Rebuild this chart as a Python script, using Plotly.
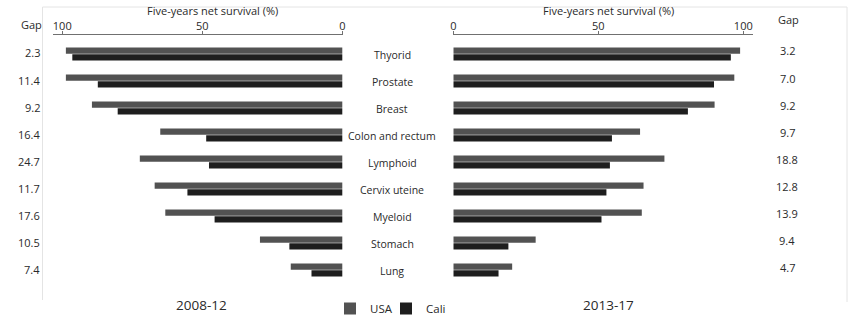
import plotly.graph_objects as go

W, H = 850, 318

cancers = ["Thyorid", "Prostate", "Breast", "Colon and rectum", "Lymphoid",
           "Cervix uteine", "Myeloid", "Stomach", "Lung"]

usa_2008 = [98.7, 98.7, 89.4, 65.0, 72.3, 67.0, 63.2, 29.4, 18.4]
cali_2008 = [96.4, 87.3, 80.2, 48.6, 47.6, 55.3, 45.6, 18.9, 11.0]
gap_2008 = ["2.3", "11.4", "9.2", "16.4", "24.7", "11.7", "17.6", "10.5", "7.4"]

usa_2013 = [98.9, 96.9, 90.1, 64.4, 72.8, 65.6, 65.0, 28.4, 20.3]
cali_2013 = [95.7, 89.9, 80.9, 54.7, 54.0, 52.8, 51.1, 19.0, 15.6]
gap_2013 = ["3.2", "7.0", "9.2", "9.7", "18.8", "12.8", "13.9", "9.4", "4.7"]

periods = ["2008-12", "2013-17"]
axis_title = "Five-years net survival (%)"

USA_C = "#525252"
CALI_C = "#1e1e1e"
TXT = "#2a2a2a"
FONT = "Open Sans"

fig = go.Figure()
fig.add_trace(go.Bar(x=usa_2008, y=cancers, orientation="h", name="USA",
                     marker=dict(color=USA_C, line=dict(width=0)),
                     xaxis="x", yaxis="y", legend="legend"))
fig.add_trace(go.Bar(x=cali_2008, y=cancers, orientation="h", name="Cali",
                     marker=dict(color=CALI_C, line=dict(width=0)),
                     xaxis="x", yaxis="y", legend="legend2"))
fig.add_trace(go.Bar(x=usa_2013, y=cancers, orientation="h", name="USA",
                     marker=dict(color=USA_C, line=dict(width=0)),
                     xaxis="x2", yaxis="y2", showlegend=False))
fig.add_trace(go.Bar(x=cali_2013, y=cancers, orientation="h", name="Cali",
                     marker=dict(color=CALI_C, line=dict(width=0)),
                     xaxis="x2", yaxis="y2", showlegend=False))

# plot area: axis line at y=35px, first category centre at 54px, 27px per category
ydom = [1 - 283.5 / H, 1 - 35 / H]
yrange = [8.5, -0.5 - 5.5 / 27]
common_x = dict(side="top", showline=True, mirror=False,
                linecolor="#707070", linewidth=1, ticks="outside", ticklen=3,
                tickcolor="#707070", tickwidth=1, tickvals=[0, 50, 100], showgrid=False,
                zeroline=False, tickfont=dict(size=11, color=TXT, family=FONT),
                ticklabelstandoff=-3,
                fixedrange=True, automargin=False)
common_y = dict(domain=ydom, categoryorder="array", categoryarray=cancers,
                range=yrange, showticklabels=False, ticks="", showline=False,
                fixedrange=True, showgrid=False, zeroline=False)

leg = dict(orientation="h", xanchor="left", yanchor="top", y=1 - 294 / H,
           font=dict(size=11.5, color=TXT), itemwidth=30,
           bgcolor="rgba(0,0,0,0)")

fig.update_layout(
    width=W, height=H,
    margin=dict(l=0, r=0, t=0, b=0, autoexpand=False),
    paper_bgcolor="white", plot_bgcolor="rgba(0,0,0,0)",
    font=dict(family=FONT, color=TXT, size=11),
    barmode="group", bargap=0.5, bargroupgap=0.1,
    xaxis=dict(range=[103.3, -0.36], domain=[53 / W, 343.3 / W], anchor="y", **common_x),
    xaxis2=dict(range=[0, 103.45], domain=[453.3 / W, 753.3 / W], anchor="y2", **common_x),
    yaxis=dict(anchor="x", **common_y),
    yaxis2=dict(anchor="x2", **common_y),
    legend=dict(x=330 / W, **leg),
    legend2=dict(x=386 / W, **leg),
)

ann = []
for i, c in enumerate(cancers):
    ann.append(dict(x=392 / W, xref="paper", y=c, yref="y", text=c, showarrow=False,
                    xanchor="center", yanchor="middle", yshift=-1,
                    font=dict(size=10.5, color=TXT)))
    ann.append(dict(x=42 / W, xref="paper", y=c, yref="y", text=gap_2008[i], showarrow=False,
                    xanchor="right", yanchor="middle", yshift=1,
                    font=dict(size=11, color=TXT)))
    ann.append(dict(x=787 / W, xref="paper", y=c, yref="y", text=gap_2013[i], showarrow=False,
                    xanchor="center", yanchor="middle", yshift=3,
                    font=dict(size=11, color=TXT)))

ann += [
    dict(x=32 / W, y=1 - 25 / H, xref="paper", yref="paper", text="Gap", showarrow=False,
         xanchor="center", yanchor="middle", font=dict(size=11, color=TXT)),
    dict(x=788 / W, y=1 - 20 / H, xref="paper", yref="paper", text="Gap", showarrow=False,
         xanchor="center", yanchor="middle", font=dict(size=11, color=TXT)),
    dict(x=212 / W, y=1 - 10.5 / H, xref="paper", yref="paper", text=axis_title, showarrow=False,
         xanchor="center", yanchor="middle", font=dict(size=11, color=TXT)),
    dict(x=608 / W, y=1 - 10.5 / H, xref="paper", yref="paper", text=axis_title, showarrow=False,
         xanchor="center", yanchor="middle", font=dict(size=11, color=TXT)),
    dict(x=201 / W, y=1 - 305 / H, xref="paper", yref="paper", text=periods[0], showarrow=False,
         xanchor="center", yanchor="middle", font=dict(size=13.5, color=TXT)),
    dict(x=608 / W, y=1 - 305 / H, xref="paper", yref="paper", text=periods[1], showarrow=False,
         xanchor="center", yanchor="middle", font=dict(size=13.5, color=TXT)),
]
fig.update_layout(annotations=ann)

bc = "#e4e4e4"
fig.update_layout(shapes=[
    dict(type="line", xref="paper", yref="paper", x0=42.5 / W, x1=42.5 / W,
         y0=1 - 300 / H, y1=1 - 7 / H, line=dict(color=bc, width=1)),
    dict(type="line", xref="paper", yref="paper", x0=42.5 / W, x1=847 / W,
         y0=1 - 7 / H, y1=1 - 7 / H, line=dict(color=bc, width=1)),
    dict(type="line", xref="paper", yref="paper", x0=847 / W, x1=847 / W,
         y0=1 - 302 / H, y1=1 - 7 / H, line=dict(color=bc, width=1)),
])

fig.write_html("out.html", config={"displayModeBar": False, "staticPlot": True},
               post_script="document.body.style.margin='0';document.body.style.padding='0';")
